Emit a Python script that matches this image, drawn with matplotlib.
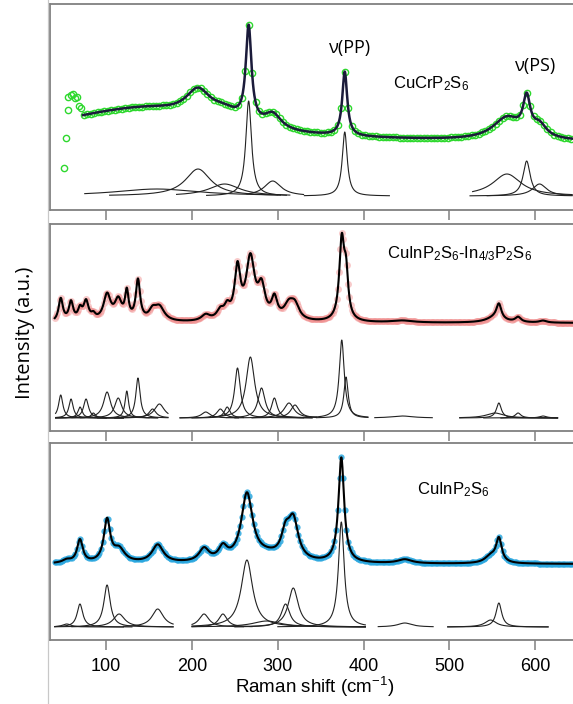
import numpy as np
import matplotlib.pyplot as plt
from matplotlib.lines import Line2D

plt.rcParams['font.family'] = ['Liberation Sans', 'DejaVu Sans']
plt.rcParams['mathtext.default'] = 'regular'

# ---- CuCrP2S6 (top) : fitted Lorentzian peaks (centre cm-1, height, hwhm) ----
cr_center = [159, 207, 238, 266, 294, 378, 567, 590, 605]
cr_height = [7, 27, 12, 95, 15, 64, 22, 35, 12]
cr_width = [60, 18, 22, 4, 12, 3.5, 20, 5, 10]
cr_lo = [75, 104, 182, 217, 264, 331, 527, 524, 544]
cr_hi = [300, 303, 314, 310, 330, 430, 643, 643, 643]
cr_offset = 67
cr_bg = [120, 28, 130]          # luminescence hump: centre, height, width
cr_lead_x = [51.2, 53.2, 55.1, 55.8, 59.0, 61.7, 63.7, 65.6, 68.3, 70.6]
cr_lead_y = [42, 72, 100, 113, 115, 116, 112, 113, 104, 102]

# ---- CuInP2S6-In4/3P2S6 (middle) ----
het_center = [47, 59, 69.5, 76.5, 85, 101, 114, 124, 137, 154, 162, 216, 233, 241,
              253, 268, 281, 296, 313, 320, 374.5, 379.5, 445, 553, 557.6, 580, 609]
het_height = [23, 19, 11, 19, 5, 26, 20, 27, 40, 9, 14, 6, 9, 11,
              50, 61, 30, 20, 15, 13, 78, 41, 2, 5, 15, 5, 2]
het_width = [3, 3, 3, 3.5, 3, 5, 5, 2.5, 3, 5, 7, 6, 5, 4,
             4, 6, 5, 4, 7, 6, 3.5, 3, 15, 12, 3.5, 4, 5]
het_lo = [41, 41, 41, 41, 41, 60, 70, 90, 100, 110, 110, 186, 186, 200,
          224, 224, 240, 250, 270, 270, 330, 345, 413, 512, 512, 540, 560]
het_hi = [100, 100, 120, 120, 120, 150, 160, 160, 172, 172, 172, 254, 254, 260,
          330, 330, 340, 340, 345, 345, 405, 405, 480, 626, 626, 626, 626]
het_offset = 108

# ---- CuInP2S6 (bottom) ----
in_center = [54, 69.4, 101, 115, 160, 214, 236, 264, 287, 309, 318, 374, 448, 548, 557.6]
in_height = [3, 23, 42, 13, 18, 13, 13, 67, 6, 23, 39, 105, 4, 7, 24]
in_width = [6, 4, 4.5, 8, 8, 7, 6, 8, 20, 6, 7, 4, 10, 8, 4]
in_lo = [40, 40, 40, 60, 120, 200, 200, 200, 200, 250, 250, 300, 417, 498, 498]
in_hi = [120, 130, 178, 178, 178, 260, 270, 402, 402, 402, 402, 402, 481, 615, 615]
in_offset = 76

xticks = [100, 200, 300, 400, 500, 600]


def lor(x, c, h, w):
    return h / (1 + ((x - c) / w) ** 2)


def model(x, centers, heights, widths, offset):
    y = np.full_like(x, offset, dtype=float)
    for c, h, w in zip(centers, heights, widths):
        y += lor(x, c, h, w)
    return y


def components(ax, centers, heights, widths, lo, hi, base):
    for c, h, w, a, b in zip(centers, heights, widths, lo, hi):
        xx = np.linspace(a, b, 600)
        ax.plot(xx, base + lor(xx, c, h, w), color='#222222', lw=0.8)


W, H = 573, 704
fig = plt.figure(figsize=(W / 100, H / 100), dpi=100)

def make_ax(top, bottom):
    ax = fig.add_axes([50 / W, 1 - bottom / H, 1 - 50 / W, (bottom - top) / H])
    ax.set_xlim(34.5, 644)
    ax.set_ylim(0, bottom - top)
    ax.set_yticks([])
    ax.set_xticks(xticks)
    for s in ['top', 'bottom', 'left']:
        ax.spines[s].set_color('#808080')
        ax.spines[s].set_linewidth(1.3)
    ax.spines['right'].set_visible(False)
    ax.tick_params(axis='x', direction='out', length=7.2, width=1.1, color='#808080',
                   labelsize=13, pad=6)
    return ax

ax1 = make_ax(4, 210)
ax2 = make_ax(224, 431)
ax3 = make_ax(443, 640)
ax1.tick_params(labelbottom=False)
ax2.tick_params(labelbottom=False)

# top panel
xf = np.linspace(73, 645, 2000)
yf = model(xf, cr_center + [cr_bg[0]], cr_height + [cr_bg[1]], cr_width + [cr_bg[2]], cr_offset)
xd = np.arange(74, 646, 4.0)
yd = model(xd, cr_center + [cr_bg[0]], cr_height + [cr_bg[1]], cr_width + [cr_bg[2]], cr_offset)
ax1.plot(cr_lead_x, cr_lead_y, 'o', mfc='none', mec='#2ed82e', ms=4.5, mew=1)
ax1.plot(xd, yd, 'o', mfc='none', mec='#2ed82e', ms=4.5, mew=1)
ax1.plot(xf, yf, color='#1b1b3a', lw=1.8)
components(ax1, cr_center, cr_height, cr_width, cr_lo, cr_hi, 14)
ax1.text(384, 162, 'ν(PP)', family='Open Sans', fontsize=13, ha='center', va='center')
ax1.text(600, 144, 'ν(PS)', family='Open Sans', fontsize=13, ha='center', va='center')
ax1.text(479, 126, 'CuCrP$_2$S$_6$', fontsize=12, ha='center', va='center')

# middle panel
xf = np.linspace(40, 645, 3000)
xd = np.arange(40, 646, 1.5)
ax2.plot(xd, model(xd, het_center, het_height, het_width, het_offset), 'o',
         color='#f08a8a', alpha=0.45, ms=5, mew=0)
ax2.plot(xf, model(xf, het_center, het_height, het_width, het_offset), color='black', lw=1.5)
components(ax2, het_center, het_height, het_width, het_lo, het_hi, 13)
ax2.text(512, 177, 'CuInP$_2$S$_6$-In$_{4/3}$P$_2$S$_6$', fontsize=12, ha='center', va='center')

# bottom panel
xd = np.arange(40, 646, 2.0)
ax3.plot(xd, model(xd, in_center, in_height, in_width, in_offset), 'o',
         color='#2aa7df', alpha=0.85, ms=4.5, mew=0)
ax3.plot(xf, model(xf, in_center, in_height, in_width, in_offset), color='black', lw=1.5)
components(ax3, in_center, in_height, in_width, in_lo, in_hi, 13)
ax3.text(505, 150, 'CuInP$_2$S$_6$', fontsize=12, ha='center', va='center')

fig.text(315 / W, 1 - 687 / H, 'Raman shift (cm$^{-1}$)', fontsize=13.5, ha='center', va='center')
fig.text(25 / W, 1 - 333 / H, 'Intensity (a.u.)', family='Open Sans', fontsize=14.5,
         rotation=90, ha='center', va='center')
fig.add_artist(Line2D([47.5 / W, 47.5 / W], [0, 1], transform=fig.transFigure,
                      color='#c8c8c8', lw=0.9))

fig.savefig('out.png', dpi=100)
